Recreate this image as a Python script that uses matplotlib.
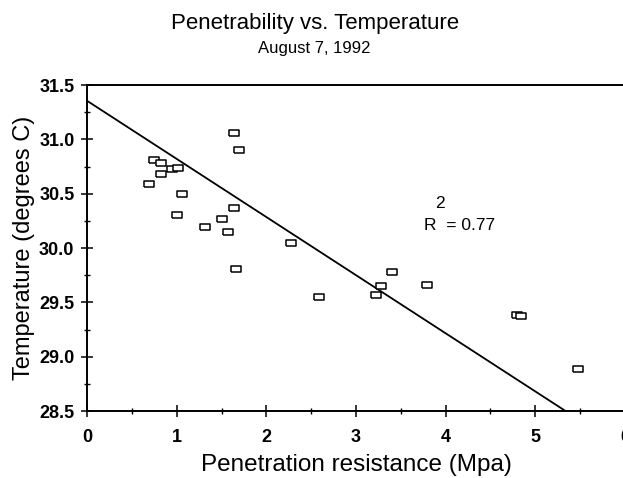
import matplotlib
matplotlib.use('Agg')
import matplotlib.pyplot as plt
from matplotlib.ticker import MultipleLocator

plt.rcParams['font.family'] = ['Liberation Sans', 'DejaVu Sans']

# penetration resistance (Mpa) and temperature (degrees C) readings
resistance = [1.64, 1.70, 0.75, 0.82, 0.82, 0.95, 1.02, 0.69, 1.06, 1.00,
              1.64, 1.50, 1.32, 1.57, 2.28, 1.66, 2.59, 3.40, 3.28, 3.22,
              3.79, 4.80, 4.84, 5.48]
temperature = [31.06, 30.90, 30.81, 30.78, 30.68, 30.73, 30.74, 30.59, 30.50, 30.30,
               30.37, 30.27, 30.19, 30.15, 30.05, 29.81, 29.55, 29.78, 29.65, 29.57,
               29.66, 29.38, 29.37, 28.89]

# fitted trend line
fit_x = [0, 5.34]
fit_intercept = 31.355
fit_slope = -0.535
fit_y = [fit_intercept + fit_slope * x for x in fit_x]
r_squared = 0.77

fig = plt.figure(figsize=(6.23, 4.78), dpi=100)
ax = fig.add_axes([87 / 623, 1 - 411 / 478, 538 / 623, 326 / 478])

# open rectangles, a bit wider than tall
box = [(-1.4, -1), (1.4, -1), (1.4, 1), (-1.4, 1), (-1.4, -1)]
ax.plot(resistance, temperature, linestyle='none', marker=box, markersize=7,
        markerfacecolor='white', markeredgecolor='black', markeredgewidth=1.1,
        zorder=3)
ax.plot(fit_x, fit_y, color='black', linewidth=1.3, zorder=2)

ax.set_xlim(0, 6)
ax.set_ylim(28.5, 31.5)
ax.xaxis.set_minor_locator(MultipleLocator(0.5))
ax.yaxis.set_minor_locator(MultipleLocator(0.25))
ax.set_xticks([0, 1, 2, 3, 4, 5, 6])
ax.set_xticklabels(['0', '1', '2', '3', '4', '5', '6'])
ax.set_yticks([28.5, 29.0, 29.5, 30.0, 30.5, 31.0, 31.5])
ax.set_yticklabels(['28.5', '29.0', '29.5', '30.0', '30.5', '31.0', '31.5'])

ax.tick_params(which='major', direction='inout', length=8, width=1.1,
               labelsize=13, pad=5)
ax.tick_params(which='minor', direction='inout', length=5, width=1.0)
ax.tick_params(axis='x', which='major', pad=9)
for lbl in ax.get_xticklabels() + ax.get_yticklabels():
    lbl.set_fontweight('bold')

for side in ['left', 'bottom', 'top']:
    ax.spines[side].set_linewidth(1.4)
ax.spines['right'].set_visible(False)

ax.set_xlabel('Penetration resistance (Mpa)', fontsize=17.5, labelpad=6)
ax.set_ylabel('Temperature (degrees C)', fontsize=17, labelpad=3)

fig.text(0.505, 1 - 23 / 478, 'Penetrability vs. Temperature', fontsize=16,
         ha='center', va='center')
fig.text(0.505, 1 - 48 / 478, 'August 7, 1992', fontsize=12,
         ha='center', va='center')

ax.text(3.76, 30.21, 'R  = %.2f' % r_squared, fontsize=12.5, ha='left', va='center')
ax.text(3.94, 30.41, '2', fontsize=12.5, ha='center', va='center')

fig.savefig('out.png', dpi=100)
